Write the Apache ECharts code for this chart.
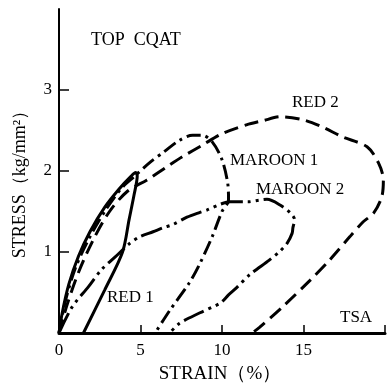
<!DOCTYPE html>
<html><head><meta charset="utf-8">
<script src="https://cdn.jsdelivr.net/npm/echarts@6/dist/echarts.min.js"></script>
<style>html,body{margin:0;padding:0;background:#fff}#c{width:387px;height:384px}</style>
</head><body><div id="c"></div><script>
// tick values
const xTickLabels = [0, 5, 10, 15];
const xTickMarks = [5, 10, 15, 20];
const yTickLabels = [1, 2, 3];
// series: [strain %, stress kg/mm2]
const red1 = [[0,0],[0.2,0.25],[0.6,0.6],[1.2,0.95],[1.9,1.25],[2.8,1.55],[3.7,1.78],[4.4,1.93],[4.7,1.98],[4.8,1.94],[4.6,1.7],[4.3,1.4],[3.9,1.0],[2.8,0.53],[1.5,0]];
const maroon1 = [[0,0],[0.4,0.4],[1.0,0.8],[1.8,1.15],[2.8,1.5],[3.8,1.78],[4.6,1.93],[5.6,2.11],[6.4,2.23],[7.4,2.38],[8.2,2.44],[8.8,2.44],[9.4,2.36],[10.0,2.14],[10.35,1.85],[10.4,1.64],[10.0,1.5],[9.4,1.19],[8.65,0.86],[8.0,0.62],[6.8,0.28],[5.9,0]];
const red2 = [[0,0],[0.5,0.35],[1.2,0.75],[2.1,1.15],[3.1,1.5],[4.2,1.75],[5.4,1.89],[6.6,2.05],[7.6,2.18],[8.8,2.32],[10.0,2.46],[11.5,2.57],[12.5,2.62],[13.6,2.67],[15.0,2.63],[16.2,2.54],[17.4,2.42],[18.9,2.3],[19.6,2.1],[19.9,1.89],[19.8,1.68],[19.3,1.48],[18.65,1.37],[17.85,1.19],[16.6,0.9],[15.4,0.65],[13.7,0.32],[12.3,0.07],[11.85,0]];
const maroon2 = [[0,0],[0.8,0.32],[1.8,0.57],[2.6,0.78],[3.56,0.96],[4.3,1.1],[4.97,1.19],[5.77,1.25],[6.4,1.3],[7.0,1.34],[7.85,1.43],[8.65,1.49],[9.1,1.52],[9.9,1.59],[10.5,1.62],[11.6,1.62],[12.3,1.64],[12.76,1.65],[13.56,1.58],[14.2,1.48],[14.45,1.4],[14.35,1.3],[14.3,1.23],[14.0,1.11],[13.56,1.01],[12.9,0.9],[11.7,0.72],[10.9,0.56],[10.4,0.47],[9.9,0.37],[8.65,0.25],[7.4,0.12],[6.8,0]];

const serif = "'Liberation Serif','DejaVu Serif',serif";
const chart = echarts.init(document.getElementById('c'), null, {renderer:'canvas'});
function line(name, data, type){
  return {name, type:'line', data, smooth:0.3, symbol:'none', animation:false,
    lineStyle:{color:'#000', width:3, type, cap:'butt'}};
}
function label(text, x, y, size, align){
  return {type:'text', x, y, style:{text, fill:'#000', font: size+'px '+serif, textAlign: align||'left', textVerticalAlign:'middle'}};
}
chart.setOption({
  animation:false,
  backgroundColor:'#fff',
  grid:{left:59, right:2, top:9, bottom:51, containLabel:false, outerBoundsMode:'none'},
  xAxis:{type:'value', min:0, max:20, interval:5,
    axisLine:{lineStyle:{color:'#000', width:3}},
    axisTick:{inside:true, length:8, lineStyle:{color:'#000', width:1.5}, customValues:xTickMarks},
    axisLabel:{color:'#000', fontFamily:serif, fontSize:17, margin:9, customValues:xTickLabels},
    splitLine:{show:false}},
  yAxis:{type:'value', min:0, max:4, interval:1,
    axisLine:{show:true, lineStyle:{color:'#000', width:2}},
    axisTick:{show:true, inside:true, length:10, lineStyle:{color:'#000', width:1.5}, customValues:yTickLabels},
    axisLabel:{color:'#000', fontFamily:serif, fontSize:17, margin:7, customValues:yTickLabels},
    splitLine:{show:false}},
  series:[
    line('RED 1', red1, 'solid'),
    line('MAROON 1', maroon1, [14,5,3,5]),
    line('RED 2', red2, [14,7]),
    line('MAROON 2', maroon2, [22,5,3,5,3,5])
  ],
  graphic:[
    label('TOP  CQAT', 91, 40, 18),
    label('RED 2', 292, 103, 17),
    label('MAROON 1', 230, 161, 17),
    label('MAROON 2', 256, 190, 17),
    label('RED 1', 107, 298, 17),
    label('TSA', 340, 318, 17),
    label('STRAIN（%）', 220, 374, 19, 'center'),
    {type:'text', x:20, y:180, rotation:Math.PI/2,
     style:{text:'STRESS（kg/mm²）', fill:'#000', font:'18px '+serif, textAlign:'center', textVerticalAlign:'middle'}}
  ]
});
</script></body></html>
